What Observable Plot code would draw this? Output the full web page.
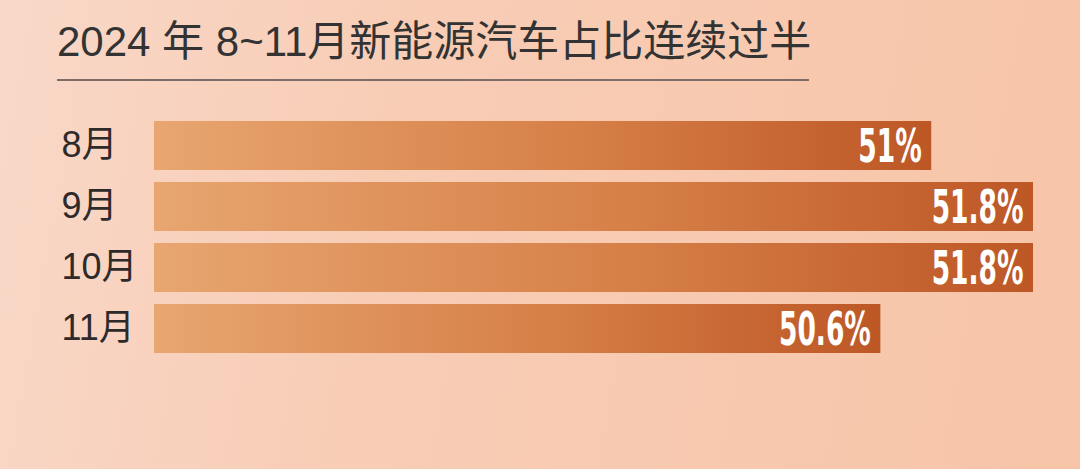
<!DOCTYPE html>
<html>
<head>
<meta charset="utf-8">
<script src="https://cdn.jsdelivr.net/npm/d3@7"></script>
<script src="https://cdn.jsdelivr.net/npm/@observablehq/plot@0.6"></script>
<style>
  html, body { margin: 0; padding: 0; }
  #page {
    position: relative; width: 1080px; height: 469px; overflow: hidden;
    background: linear-gradient(100deg, #f9d8c8 0%, #f8cdb6 35%, #f7c5a8 100%);
    font-family: "Noto Sans CJK SC", "Noto Sans", sans-serif;
  }
  #title {
    position: absolute; left: 57px; top: 13px; width: 752px;
    font-size: 42px; color: #333; line-height: 58px; height: 58px;
    padding-bottom: 8px; border-bottom: 2px solid #7d6c68;
    white-space: nowrap; font-family: "Liberation Sans", "Noto Sans CJK SC", sans-serif;
  }
  #chart { position: absolute; left: 0; top: 95px; }
</style>
</head>
<body>
<div id="page">
  <div id="title">2024 年 8~11月新能源汽车占比连续过半</div>
  <div id="chart"></div>
</div>
<script>
const months = ["8月", "9月", "10月", "11月"];
const shares = [51, 51.8, 51.8, 50.6];
const valueLabels = ["51%", "51.8%", "51.8%", "50.6%"];

const data = months.map((m, i) => ({month: m, share: shares[i], label: valueLabels[i]}));

const defs = () => {
  const d = d3.create("svg:defs");
  const g = d.append("linearGradient").attr("id", "barGrad").attr("x1", "0").attr("x2", "1").attr("y1", "0").attr("y2", "0");
  g.append("stop").attr("offset", "0%").attr("stop-color", "#e8a670");
  g.append("stop").attr("offset", "55%").attr("stop-color", "#d67f47");
  g.append("stop").attr("offset", "100%").attr("stop-color", "#bd5726");
  return d.node();
};

const chart = Plot.plot({
  width: 1080,
  height: 374,
  marginLeft: 154,
  marginRight: 47,
  marginTop: 18,
  marginBottom: 108,
  style: {background: "transparent", overflow: "visible"},
  x: {domain: [44.89, 51.8], clamp: true, axis: null},
  y: {domain: months, paddingInner: 0.1935, paddingOuter: 0.097, axis: null},
  marks: [
    defs,
    Plot.barX(data, {x: "share", y: "month", fill: "url(#barGrad)"}),
    Plot.text(data, {
      y: "month", text: "month", frameAnchor: "left", textAnchor: "start", dx: -93, dy: -1,
      fontSize: 36, fill: "#2e2a2a", fontFamily: "Liberation Sans, Noto Sans CJK SC"
    }),
    Plot.text(data, {
      x: "share", y: "month", text: "label", textAnchor: "end", dx: -10, dy: 1,
      fontSize: 46, fontWeight: "bold", fill: "white", fontFamily: "DejaVu Sans Condensed"
    })
  ]
});

d3.select(chart).selectAll('g[fill="white"] text').each(function() {
  const t = this.getAttribute("transform") || "";
  this.setAttribute("transform", t + " scale(0.64,1)");
});

document.getElementById("chart").appendChild(chart);
</script>
</body>
</html>
